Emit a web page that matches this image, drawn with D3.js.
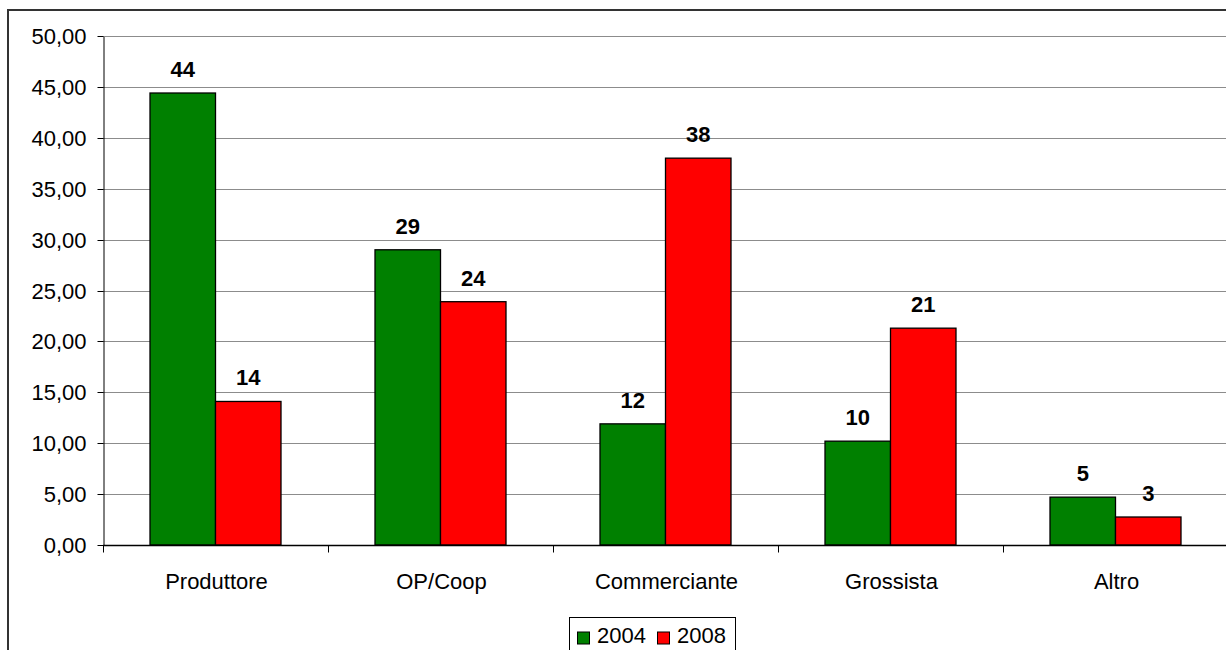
<!DOCTYPE html>
<html>
<head>
<meta charset="utf-8">
<script src="https://cdn.jsdelivr.net/npm/d3@7/dist/d3.min.js"></script>
<style>
  html, body { margin: 0; padding: 0; background: #fff; overflow: hidden; }
  svg { display: block; font-family: "Liberation Sans", Arial, sans-serif; }
</style>
</head>
<body>
<svg id="chart" width="1226" height="650"></svg>
<script>
// Canali di vendita: quota percentuale per anno
const categories = ["Produttore", "OP/Coop", "Commerciante", "Grossista", "Altro"];
const years = ["2004", "2008"];
const values2004 = [44.4, 29.0, 11.9, 10.2, 4.7];
const values2008 = [14.1, 23.9, 38.0, 21.3, 2.75];
const yTicks = [0, 5, 10, 15, 20, 25, 30, 35, 40, 45, 50];
const colors = ["#008000", "#ff0000"];

const svg = d3.select("#chart");
const W = 1226, H = 650;
const FONT = "'Liberation Sans', Arial, sans-serif";

// outer chart frame (extends past the right and bottom edges)
svg.append("rect")
  .attr("x", 8).attr("y", 10)
  .attr("width", W + 20).attr("height", H + 20)
  .attr("fill", "#fff")
  .attr("stroke", "#333").attr("stroke-width", 2);

const plot = { left: 103, right: 1228, top: 36, bottom: 545 };

const x = d3.scaleBand().domain(categories).range([plot.left, plot.right]).paddingInner(0).paddingOuter(0);
const y = d3.scaleLinear().domain([0, 50]).range([plot.bottom, plot.top]);

const barW = 65.5;
const groupW = barW * 2;

// horizontal gridlines
svg.append("g").selectAll("line")
  .data(yTicks.filter(t => t > 0))
  .join("line")
  .attr("x1", plot.left).attr("x2", plot.right)
  .attr("y1", d => Math.round(y(d)) + 0.5).attr("y2", d => Math.round(y(d)) + 0.5)
  .attr("stroke", "#8c8c8c").attr("stroke-width", 1);

// y axis
const fmtAxis = d => d3.format(".2f")(d).replace(".", ",");
const yAxis = svg.append("g")
  .attr("transform", `translate(${plot.left + 0.5},0.5)`)
  .call(d3.axisLeft(y).tickValues(yTicks).tickFormat(fmtAxis).tickSize(6).tickSizeOuter(0));
yAxis.select(".domain").attr("stroke", "#000");
yAxis.selectAll(".tick line").attr("stroke", "#000");
yAxis.selectAll(".tick text")
  .attr("x", -17)
  .attr("dy", "0.34em")
  .attr("fill", "#000")
  .style("font-size", "22px")
  .style("font-family", FONT);
yAxis.selectAll(".tick").attr("transform", d => `translate(0,${Math.round(y(d))})`);

// bars and value labels
const series = [values2004, values2008];
series.forEach((vals, si) => {
  const barX = (d, i) => x(categories[i]) + (x.bandwidth() - groupW) / 2 + si * barW;
  svg.append("g").selectAll("rect")
    .data(vals)
    .join("rect")
    .attr("x", barX)
    .attr("y", d => y(d))
    .attr("width", barW)
    .attr("height", d => y(0) - y(d))
    .attr("fill", colors[si])
    .attr("stroke", "#000").attr("stroke-width", 1.3);

  svg.append("g").selectAll("text")
    .data(vals)
    .join("text")
    .attr("x", (d, i) => barX(d, i) + barW / 2)
    .attr("y", d => y(d) - 16)
    .attr("text-anchor", "middle")
    .attr("font-weight", "bold")
    .attr("font-size", 22)
    .attr("fill", "#000")
    .text(d => d3.format(".0f")(d));
});

// x axis baseline and category ticks
const xAxis = svg.append("g")
  .attr("transform", `translate(0,${plot.bottom + 0.5})`);
xAxis.append("line")
  .attr("x1", plot.left).attr("x2", plot.right)
  .attr("stroke", "#000").attr("stroke-width", 1.5);
xAxis.selectAll("line.tick")
  .data(categories)
  .join("line")
  .attr("class", "tick")
  .attr("x1", d => Math.round(x(d)) + 0.5).attr("x2", d => Math.round(x(d)) + 0.5)
  .attr("y1", 0).attr("y2", 7)
  .attr("stroke", "#000");
xAxis.selectAll("text")
  .data(categories)
  .join("text")
  .attr("x", d => x(d) + x.bandwidth() / 2 + 1)
  .attr("y", 43)
  .attr("text-anchor", "middle")
  .attr("font-size", 22)
  .attr("fill", "#000")
  .text(d => d);

// legend
const legend = svg.append("g").attr("transform", "translate(569.5,617.5)");
legend.append("rect")
  .attr("width", 166).attr("height", 40)
  .attr("fill", "#fff").attr("stroke", "#000").attr("stroke-width", 1);
const item = legend.selectAll("g.item")
  .data(years)
  .join("g")
  .attr("class", "item")
  .attr("transform", (d, i) => `translate(${8 + i * 80},14.5)`);
item.append("rect")
  .attr("width", 12).attr("height", 12)
  .attr("fill", (d, i) => colors[i])
  .attr("stroke", "#000").attr("stroke-width", 1);
item.append("text")
  .attr("x", 19.5).attr("y", 11)
  .attr("font-size", 22)
  .attr("fill", "#000")
  .text(d => d);
</script>
</body>
</html>
